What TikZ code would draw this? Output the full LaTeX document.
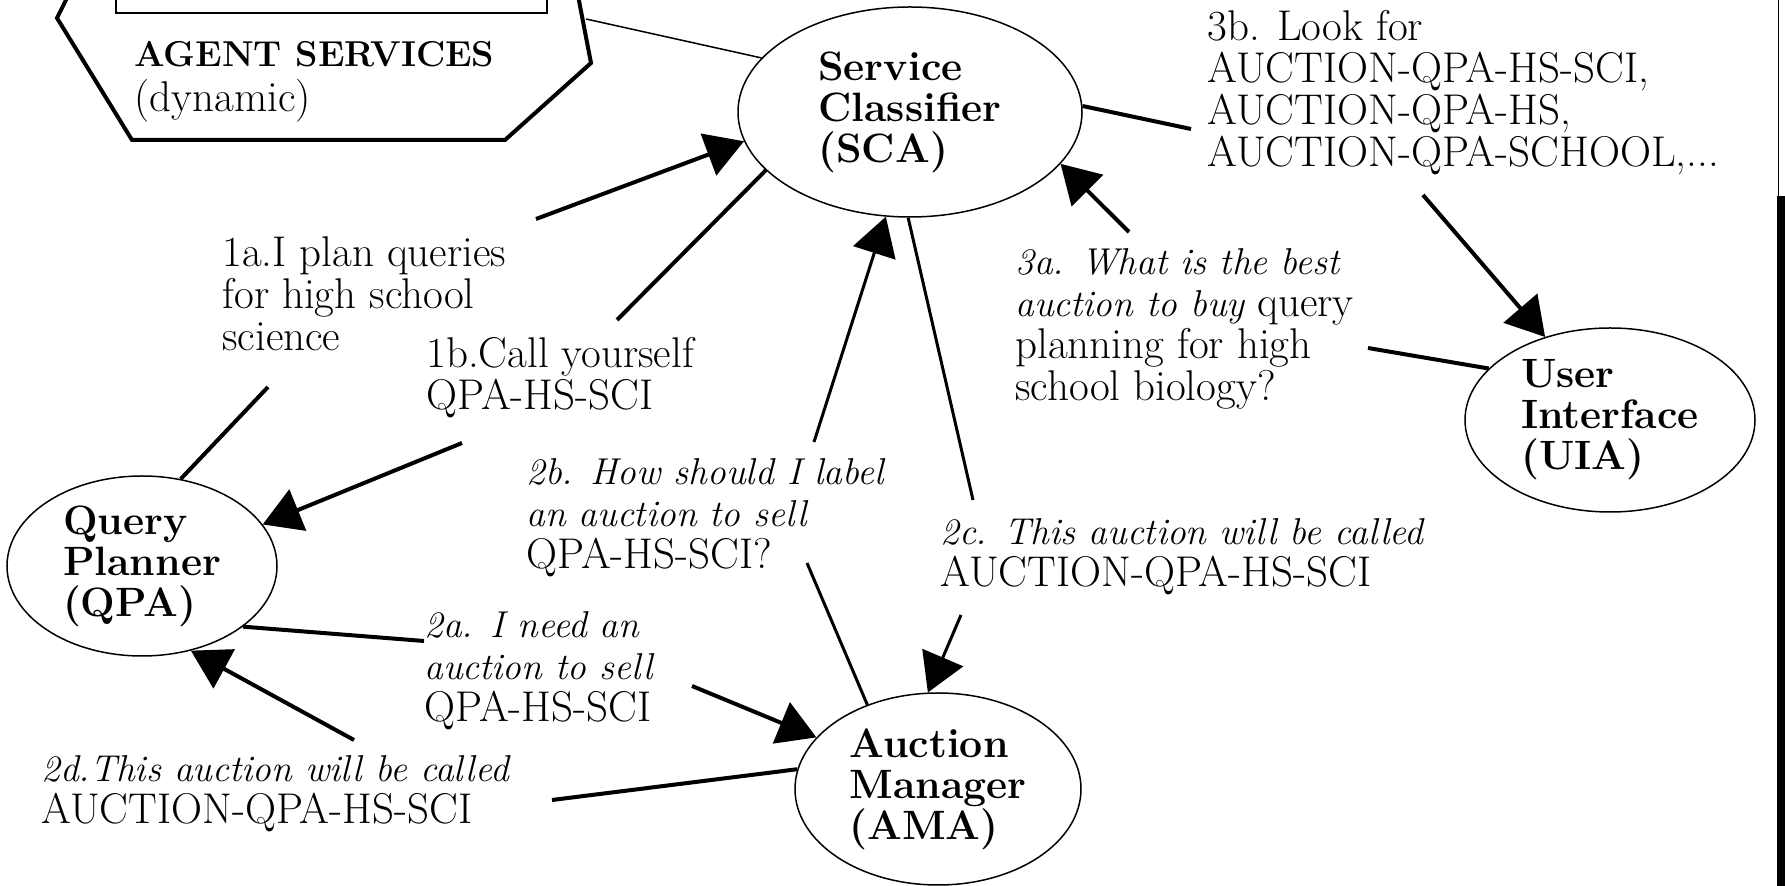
\documentclass[tikz,border=0pt]{standalone}
\usetikzlibrary{shapes.geometric, arrows.meta}
\newcommand{\msgit}{\fontsize{18.7}{21}\selectfont\itshape}

\begin{document}
\begin{tikzpicture}[x=0.5pt, y=-0.5pt,
    agent/.style = {draw, ellipse, line width=0.75pt, inner sep=0pt, align=left, font=\fontsize{20.5}{20.5}\selectfont\bfseries},
    msg/.style = {anchor=base west, inner sep=0pt, align=left, font=\fontsize{21.5}{21}\selectfont},
    ar/.style = {line width=2pt, -{Triangle[length=19pt, width=22pt]}},
    ln/.style = {line width=2pt}]
    \useasboundingbox (0,0) rectangle (1785,886);
    \clip (0,0) rectangle (1785,886);

    % agent services box, cut off at the top
    \draw[line width=2pt] (76,-20) -- (57,18) -- (132,140) -- (505,140) -- (591,63) -- (575,-20);
    \draw[line width=0.75pt] (116,-20) rectangle (547,13);
    \node[msg] (services) at (134,112) {{\fontsize{18}{21}\selectfont\bfseries AGENT SERVICES}\\[1.5pt](dynamic)};
    \coordinate (hexr) at (586,19);

    \node[agent, minimum width=172pt, minimum height=105pt] (sca) at (910,112) {Service\\Classifier\\(SCA)};
    \node[agent, minimum width=135pt, minimum height=90pt] (qpa) at (142,566) {Query\\Planner\\(QPA)};
    \node[agent, minimum width=143pt, minimum height=96pt] (ama) at (938,789) {Auction\\Manager\\(AMA)};
    \node[agent, minimum width=145pt, minimum height=92pt] (uia) at (1610,420) {User\\Interface\\(UIA)};

    % labels sit on the baseline of their last line
    \node[msg] (l1a) at (222,351) {1a.I plan queries\\for high school\\science};
    \node[msg] (l1b) at (426,410) {1b.Call yourself\\QPA-HS-SCI};
    \node[msg] (l2a) at (424,722) {{\msgit 2a. I need an}\\{\msgit auction to sell}\\QPA-HS-SCI};
    \node[msg] (l2b) at (526,569) {{\msgit 2b. How should I label}\\{\msgit an auction to sell}\\QPA-HS-SCI?};
    \node[msg] (l2c) at (940,587) {{\msgit 2c. This auction will be called}\\AUCTION-QPA-HS-SCI};
    \node[msg] (l2d) at (41,824) {{\msgit 2d.This auction will be called}\\AUCTION-QPA-HS-SCI};
    \node[msg] (l3a) at (1015,401) {{\msgit 3a. What is the best}\\{\msgit auction to buy} query\\planning for high\\school biology?};
    \node[msg] (l3b) at (1207,167) {3b. Look for\\AUCTION-QPA-HS-SCI,\\AUCTION-QPA-HS,\\AUCTION-QPA-SCHOOL,...};

    % free ends of the connectors, next to the labels
    \coordinate (c1a-lo) at (268,387);
    \coordinate (c1a-hi) at (536,219);
    \coordinate (c1b-hi) at (617,320);
    \coordinate (c1b-lo) at (462,443);
    \coordinate (c2a-l) at (424,641);
    \coordinate (c2a-r) at (692,686);
    \coordinate (c2d-r) at (552,800);
    \coordinate (c2d-l) at (354,740);
    \coordinate (c2b-lo) at (807,563);
    \coordinate (c2b-hi) at (814,442);
    \coordinate (c2c-hi) at (973,500);
    \coordinate (c2c-lo) at (961,615);
    \coordinate (c3a-r) at (1368,348);
    \coordinate (c3a-hi) at (1129,232);
    \coordinate (c3b-l) at (1191,129);
    \coordinate (c3b-lo) at (1423,195);

    \draw[line width=0.75pt] (hexr) -- (sca.160);

    \draw[ln] (qpa.66) -- (c1a-lo);
    \draw[ar] (c1a-hi) -- (sca.190);
    \draw[ln] (sca.202) -- (c1b-hi);
    \draw[ar] (c1b-lo) -- (qpa.19);

    \draw[ln] (qpa.-31) -- (c2a-l);
    \draw[ar] (c2a-r) -- (ama.157);
    \draw[ln, line width=1.5pt] (ama.130) -- (c2b-lo);
    \draw[ar, line width=1.5pt] (c2b-hi) -- (sca.257);
    \draw[ln, line width=1.5pt] (sca.269) -- (c2c-hi);
    \draw[ar, line width=1.5pt] (c2c-lo) -- (ama.96);
    \draw[ln] (ama.172) -- (c2d-r);
    \draw[ar] (c2d-l) -- (qpa.-60);

    \draw[ln] (uia.157) -- (c3a-r);
    \draw[ar] (c3a-hi) -- (sca.-19);
    \draw[ln] (sca.2) -- (c3b-l);
    \draw[ar] (c3b-lo) -- (uia.128);

    % dark strip along the right edge
    \fill (1777,196) rectangle (1785,886);
    \draw[line width=0.5pt] (1778,0) -- (1778,196);
\end{tikzpicture}
\end{document}
